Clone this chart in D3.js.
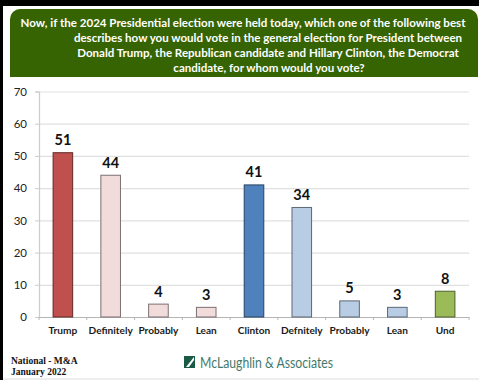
<!DOCTYPE html>
<html>
<head>
<meta charset="utf-8">
<script src="https://cdn.jsdelivr.net/npm/d3@7"></script>
<style>
html, body { margin: 0; padding: 0; background: #000; }
svg { display: block; }
text { font-family: Lato, "Open Sans", "Noto Sans", sans-serif; }
</style>
</head>
<body>
<div id="chart"></div>
<script>
const categories = ["Trump", "Definitely", "Probably", "Lean", "Clinton", "Defnitely", "Probably ", "Lean ", "Und"];
const displayLabels = ["Trump", "Definitely", "Probably", "Lean", "Clinton", "Defnitely", "Probably", "Lean", "Und"];
const values = [51, 44, 4, 3, 41, 34, 5, 3, 8];
const barColors = ["#c0504d", "#f2dcdb", "#f2dcdb", "#f2dcdb", "#4f81bd", "#b8cce4", "#b8cce4", "#b8cce4", "#9bbb59"];
const yTicks = [0, 10, 20, 30, 40, 50, 60, 70];
const titleLines = [
    "Now, if the 2024 Presidential election were held today, which one of the following best",
    "describes how you would vote in the general election for President between",
    "Donald Trump, the Republican candidate and Hillary Clinton, the Democrat",
    "candidate, for whom would you vote?"
];
// first line starts further left than the others, centres
const titleCenters = [243, 268, 268, 269];
const footLines = ["National - M&A", "January 2022"];

const svg_width = 479;
const svg_height = 380;
const margin = { top: 91.5, left: 39, right: 10, bottom: 63 };

const svg = d3.select('#chart').append('svg')
    .attr('width', svg_width).attr('height', svg_height);

//white page inside the black frame
svg.append('rect').attr('x', 3).attr('y', 6)
    .attr('width', svg_width - 3).attr('height', svg_height - 6)
    .attr('fill', '#fff');
svg.append('rect').attr('x', 3).attr('y', svg_height - 2)
    .attr('width', svg_width - 3).attr('height', 2)
    .attr('fill', '#eeeeee');

//header
const headerPath = d3.path();
headerPath.moveTo(10, 77);
headerPath.lineTo(10, 19);
headerPath.arcTo(10, 9, 20, 9, 10);
headerPath.lineTo(468, 9);
headerPath.arcTo(478, 9, 478, 19, 10);
headerPath.lineTo(478, 77);
headerPath.closePath();
svg.append('path').attr('d', headerPath.toString()).attr('fill', '#366403');

svg.append('g').selectAll('text').data(titleLines).join('text')
    .attr('x', (d, i) => titleCenters[i])
    .attr('y', (d, i) => 27 + i * 14.9)
    .attr('text-anchor', 'middle')
    .attr('fill', '#fff')
    .attr('font-size', 11.55)
    .attr('font-weight', 700)
    .text(d => d);

//scales
const x = d3.scaleBand().domain(categories)
    .range([margin.left, svg_width - margin.right]).paddingInner(0.59).paddingOuter(0.295);
const y = d3.scaleLinear().domain([0, 70]).range([svg_height - margin.bottom, margin.top]);

//grid and axes
const grid = d3.axisLeft(y).tickValues(yTicks.filter(d => d > 0))
    .tickSize(-(svg_width - margin.left - margin.right)).tickFormat('');
const gridDraw = svg.append('g').attr('transform', `translate(${margin.left},0)`).call(grid);
gridDraw.select('.domain').remove();
gridDraw.selectAll('line').attr('stroke', '#e0e0e0').attr('stroke-width', 1.2);

const yAxis = d3.axisLeft(y).tickValues(yTicks).tickSize(4).tickPadding(8);
const yAxisDraw = svg.append('g').attr('transform', `translate(${margin.left},0)`).call(yAxis);
yAxisDraw.select('.domain').attr('stroke', '#cccccc').attr('stroke-width', 1.2);
yAxisDraw.selectAll('line').attr('stroke', '#cccccc');
yAxisDraw.selectAll('text').attr('font-size', 11.5).attr('fill', '#222')
    .style('font-family', 'Lato, "Open Sans", sans-serif');

const step = x.step();
const xAxis = d3.axisBottom(x).tickSize(0).tickPadding(10).tickFormat((d, i) => displayLabels[i]);
const xAxisDraw = svg.append('g').attr('transform', `translate(0,${svg_height - margin.bottom})`).call(xAxis);
xAxisDraw.select('.domain').attr('stroke', '#b4b4b4');
xAxisDraw.selectAll('text').attr('font-size', 10.1).attr('font-weight', 700).attr('fill', '#1a1a1a')
    .style('font-family', 'Lato, "Open Sans", sans-serif');

//tick marks sit between the bands
svg.append('g').selectAll('line').data(d3.range(categories.length + 1)).join('line')
    .attr('x1', d => margin.left + d * step).attr('x2', d => margin.left + d * step)
    .attr('y1', svg_height - margin.bottom).attr('y2', svg_height - margin.bottom + 3)
    .attr('stroke', '#b4b4b4');

//bars
svg.append('g').selectAll('rect').data(values).join('rect')
    .attr('x', (d, i) => x(categories[i]))
    .attr('y', d => y(d))
    .attr('width', x.bandwidth())
    .attr('height', d => y(0) - y(d))
    .attr('fill', (d, i) => barColors[i])
    .attr('stroke', (d, i) => d3.color(barColors[i]).darker(1.9))
    .attr('stroke-width', 1);

//value labels
svg.append('g').selectAll('text').data(values).join('text')
    .attr('x', (d, i) => x(categories[i]) + x.bandwidth() / 2)
    .attr('y', d => y(d) - 7.5)
    .attr('text-anchor', 'middle')
    .attr('font-size', 14.5)
    .attr('font-weight', 700)
    .attr('fill', '#111')
    .text(d => d);

//footer
svg.append('g').selectAll('text').data(footLines).join('text')
    .attr('x', 11)
    .attr('y', (d, i) => 364 + i * 11)
    .attr('font-size', 9.5)
    .attr('font-weight', 700)
    .attr('fill', '#111')
    .style('font-family', '"Liberation Serif", serif')
    .text(d => d);

//logo
svg.append('rect').attr('x', 184).attr('y', 356).attr('width', 11).attr('height', 12).attr('fill', '#1a5a46');
svg.append('path').attr('d', 'M186 367L194 357L194 360L189 367Z').attr('fill', '#fff');
svg.append('text').attr('x', 200).attr('y', 368)
    .attr('font-size', 14.5).attr('fill', '#3f7a6c')
    .attr('textLength', 133).attr('lengthAdjust', 'spacingAndGlyphs')
    .text('McLaughlin & Associates');
</script>
</body>
</html>
